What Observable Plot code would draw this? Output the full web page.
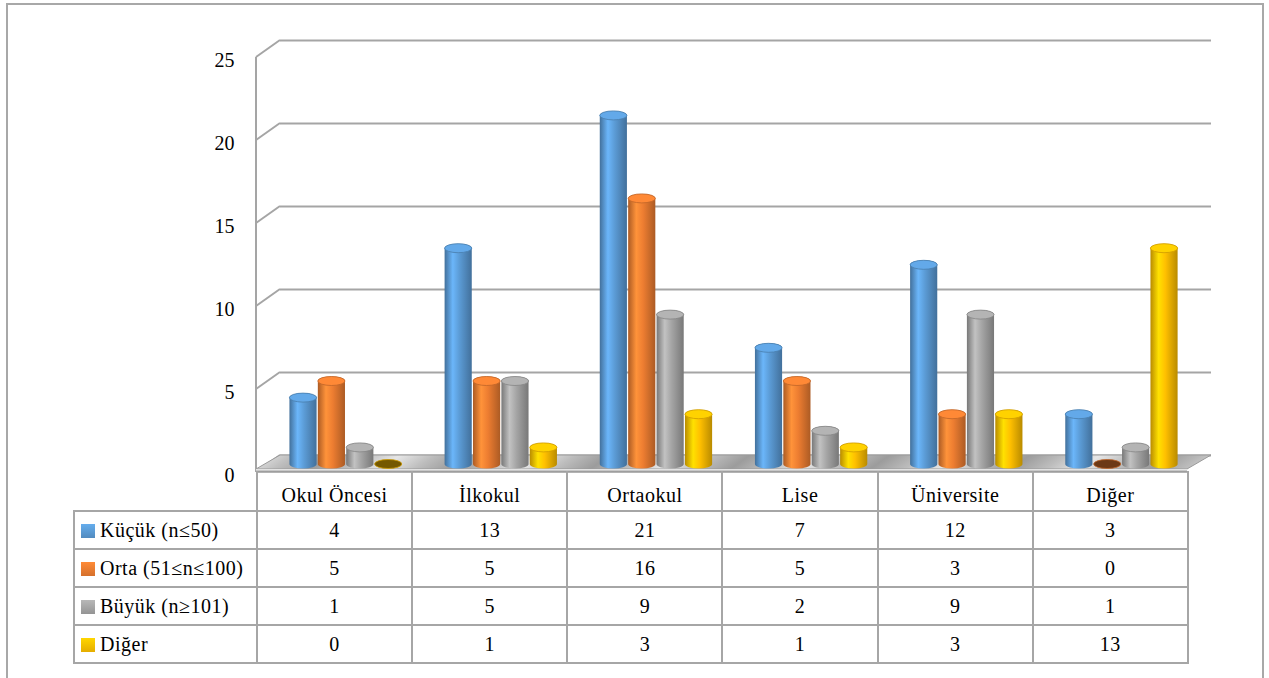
<!DOCTYPE html>
<html>
<head>
<meta charset="utf-8">
<script src="https://cdn.jsdelivr.net/npm/d3@7"></script>
<script src="https://cdn.jsdelivr.net/npm/@observablehq/plot@0.6"></script>
<style>
  html, body { margin: 0; padding: 0; background: #fff; overflow: hidden; }
  body { width: 1269px; height: 678px; position: relative; font-family: "Liberation Serif", serif; }
  #frame { position: absolute; left: 6px; top: 3px; width: 1258px; height: 700px;
           border: 2px solid #a8a8a8; border-bottom: none; box-sizing: border-box; }
  #chart { position: absolute; left: 0; top: 0; }
  #datatable { position: absolute; border-collapse: collapse; table-layout: fixed;
               font-size: 20px; letter-spacing: 0.5px; color: #000; }
  #datatable td { border: 2px solid #a6a6a6; padding: 0; text-align: center;
                  height: 36px; line-height: 36px; white-space: nowrap; overflow: hidden; }
  #datatable tr.head td { height: 30px; line-height: 30px; padding-top: 9px; border-top: none; }
  #datatable tr.head td.blank { border: none; }
  #datatable td.key { text-align: left; padding-left: 6px; }
  .swatch { display: inline-block; width: 14px; height: 14px; margin-right: 5px; vertical-align: -1px; }
</style>
</head>
<body>
<div id="frame"></div>
<div id="chart"></div>
<table id="datatable"></table>
<script>
// Education level of the school, by school size
const categories = ["Okul Öncesi", "İlkokul", "Ortaokul", "Lise", "Üniversite", "Diğer"];
const seriesNames = ["Küçük (n≤50)", "Orta (51≤n≤100)", "Büyük (n≥101)", "Diğer"];
const kucuk = [4, 13, 21, 7, 12, 3];
const orta = [5, 5, 16, 5, 3, 0];
const buyuk = [1, 5, 9, 2, 9, 1];
const diger = [0, 1, 3, 1, 3, 13];
const yTicks = [0, 5, 10, 15, 20, 25];
const seriesColors = ["#5b9bd5", "#ed7d31", "#a5a5a5", "#ffc000"];

const seriesValues = [kucuk, orta, buyuk, diger];

// depth of the pseudo-3D box, in pixels
const DX = 24, DY = 17;
// cylinder layout inside one category band (fractions of the band)
const firstCenter = 0.303, step = 0.183, barW = 0.175;
const capRy = 4.5;

// gradients for cylinders and the floor
function defsMark() {
  const defs = d3.create("svg:defs");
  seriesColors.forEach((c, s) => {
    const base = d3.color(c);
    const g = defs.append("linearGradient").attr("id", `cyl${s}`)
      .attr("x1", 0).attr("x2", 1).attr("y1", 0).attr("y2", 0);
    [[0, base.darker(0.9)], [0.3, base.brighter(0.45)], [0.55, base], [1, base.darker(0.9)]]
      .forEach(([o, col]) => g.append("stop").attr("offset", o).attr("stop-color", col.formatHex()));
  });
  const f = defs.append("linearGradient").attr("id", "floor")
    .attr("gradientUnits", "userSpaceOnUse").attr("x1", 0).attr("x2", 70).attr("y1", 0).attr("y2", 0)
    .attr("spreadMethod", "reflect").attr("gradientTransform", "skewX(-55)");
  [[0, "#9c9c9c"], [0.5, "#bdbdbd"], [1, "#e6e6e6"]]
    .forEach(([o, col]) => f.append("stop").attr("offset", o).attr("stop-color", col));
  const e = defs.append("linearGradient").attr("id", "floorEdge")
    .attr("x1", 0).attr("x2", 0).attr("y1", 0).attr("y2", 1);
  [[0, "#f0f0f0"], [1, "#a0a0a0"]]
    .forEach(([o, col]) => e.append("stop").attr("offset", o).attr("stop-color", col));
  return defs.node();
}

// left wall edge, tick connectors and floor slab
function boxMark(index, scales) {
  const {x, y} = scales;
  const n = categories.length;
  const g = d3.create("svg:g");
  const y0 = y(0);
  g.append("line")
    .attr("x1", x(0)).attr("x2", x(0)).attr("y1", y(0)).attr("y2", y(25))
    .attr("stroke", "#a5a5a5").attr("stroke-width", 2);
  for (const t of yTicks) {
    g.append("line")
      .attr("x1", x(0)).attr("y1", y(t)).attr("x2", x(0) + DX).attr("y2", y(t) - DY)
      .attr("stroke", "#a5a5a5").attr("stroke-width", 2);
  }
  g.append("polygon")
    .attr("points", [[x(0), y0 - 3], [x(n), y0 - 3], [x(n) + DX, y0 - DY], [x(0) + DX, y0 - DY]].map(p => p.join(",")).join(" "))
    .attr("fill", "url(#floor)").attr("stroke", "#9a9a9a").attr("stroke-width", 1);
  g.append("rect")
    .attr("x", x(0)).attr("y", y0 - 3).attr("width", x(n) - x(0)).attr("height", 3)
    .attr("fill", "url(#floorEdge)");
  g.append("line")
    .attr("x1", x(0)).attr("x2", x(n)).attr("y1", y0).attr("y2", y0)
    .attr("stroke", "#9a9a9a").attr("stroke-width", 1.5);
  return g.node();
}

function cylinderMarks(s) {
  const rows = categories.map((c, i) => ({c, i, v: seriesValues[s][i]}));
  const cx = d => d.i + firstCenter + s * step;
  const base = d3.color(seriesColors[s]);
  const common = {
    x1: d => cx(d) - barW / 2,
    x2: d => cx(d) + barW / 2,
    rx: 14, ry: capRy, dy: -8
  };
  return [
    Plot.rect(rows.filter(d => d.v > 0), {
      ...common, y1: 0, y2: "v",
      insetTop: -capRy, insetBottom: -capRy,
      fill: `url(#cyl${s})`
    }),
    Plot.rect(rows, {
      ...common, y1: "v", y2: "v",
      insetTop: -capRy, insetBottom: -capRy,
      fill: d => d.v > 0 ? base.brighter(0.25).formatHex() : base.darker(2.2).formatHex(),
      stroke: base.darker(0.6).formatHex(), strokeWidth: 0.8
    })
  ];
}

const plot = Plot.plot({
  width: 1269,
  height: 478,
  marginLeft: 256,
  marginRight: 82,
  marginTop: 57,
  marginBottom: 6,
  x: {domain: [0, categories.length], axis: null},
  y: {domain: [0, 25], axis: null},
  style: {fontFamily: "Liberation Serif", fontSize: "20px", color: "#000", background: "transparent", overflow: "visible"},
  marks: [
    defsMark,
    Plot.ruleY(yTicks, {x1: 0, x2: categories.length, dx: DX, dy: -DY, stroke: "#a5a5a5", strokeWidth: 2}),
    boxMark,
    Plot.axisY(yTicks, {tickSize: 0, tickPadding: 22, dy: 3, fontSize: 20, label: null}),
    ...seriesValues.flatMap((_, s) => cylinderMarks(s))
  ]
});
document.getElementById("chart").appendChild(plot);

// data table under the chart, columns aligned with the x scale
const xs = plot.scale("x");
const colW = (xs.range[1] - xs.range[0]) / categories.length;
const keyW = 183;
const table = d3.select("#datatable")
  .style("left", `${xs.range[0] - keyW}px`)
  .style("top", "471px")
  .style("width", `${keyW + colW * categories.length}px`);
const cg = table.append("colgroup");
cg.append("col").style("width", `${keyW}px`);
categories.forEach(() => cg.append("col").style("width", `${colW}px`));
const head = table.append("tr").attr("class", "head");
head.append("td").attr("class", "blank");
categories.forEach(c => head.append("td").text(c));
seriesNames.forEach((name, s) => {
  const tr = table.append("tr");
  const key = tr.append("td").attr("class", "key");
  const base = d3.color(seriesColors[s]);
  key.append("span").attr("class", "swatch")
    .style("background", `linear-gradient(${base.brighter(0.3).formatHex()}, ${base.darker(0.3).formatHex()})`);
  key.append("span").text(name);
  seriesValues[s].forEach(v => tr.append("td").text(v));
});
</script>
</body>
</html>
